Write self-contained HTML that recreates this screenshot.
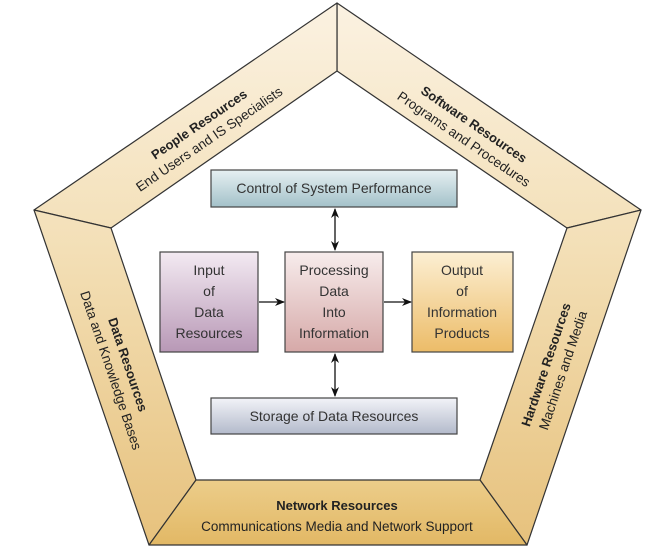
<!DOCTYPE html>
<html><head><meta charset="utf-8"><style>
html,body{margin:0;padding:0;background:#fff;}
svg{display:block;font-family:"Liberation Sans",Arial,sans-serif;}
</style></head><body>
<svg width="669" height="558" viewBox="0 0 669 558" xmlns="http://www.w3.org/2000/svg">
<defs>
<linearGradient id="fr" gradientUnits="userSpaceOnUse" x1="0" y1="0" x2="0" y2="558">
<stop offset="0" stop-color="#fbf2e2"/><stop offset="0.45" stop-color="#f3dfb6"/><stop offset="1" stop-color="#e6c07a"/></linearGradient>
<linearGradient id="bt" x1="0" y1="0" x2="0" y2="1"><stop offset="0" stop-color="#eccd8a"/><stop offset="1" stop-color="#e2b865"/></linearGradient>
<linearGradient id="cb" x1="0" y1="0" x2="0" y2="1"><stop offset="0" stop-color="#e6f0f2"/><stop offset="1" stop-color="#a3c1c9"/></linearGradient>
<linearGradient id="ib" x1="0" y1="0" x2="0" y2="1"><stop offset="0" stop-color="#f3eaf2"/><stop offset="1" stop-color="#b898b6"/></linearGradient>
<linearGradient id="pb" x1="0" y1="0" x2="0" y2="1"><stop offset="0" stop-color="#f7ecec"/><stop offset="1" stop-color="#d6a9a8"/></linearGradient>
<linearGradient id="ob" x1="0" y1="0" x2="0" y2="1"><stop offset="0" stop-color="#fcefd3"/><stop offset="1" stop-color="#ecbc68"/></linearGradient>
<linearGradient id="sb" x1="0" y1="0" x2="0" y2="1"><stop offset="0" stop-color="#f2f3f8"/><stop offset="1" stop-color="#b3bacb"/></linearGradient>
<marker id="ah" markerWidth="10" markerHeight="8" refX="9" refY="4" orient="auto-start-reverse" markerUnits="userSpaceOnUse"><path d="M0,0 L10,4 L0,8 L3,4 z" fill="#111"/></marker>
</defs>
<g stroke="#333" stroke-width="1.2" stroke-linejoin="round">
<polygon points="337,3 641,210 567,228 337,71" fill="url(#fr)"/>
<polygon points="337,3 337,71 111,228 34,210" fill="url(#fr)"/>
<polygon points="34,210 111,228 196,480 149,545" fill="url(#fr)"/>
<polygon points="641,210 567,228 480,480 527,545" fill="url(#fr)"/>
<polygon points="149,545 196,480 480,480 527,545" fill="url(#bt)"/>
</g>
<g font-size="13.5" fill="#222">
<g transform="translate(205,133) rotate(-34.4)" text-anchor="middle">
<text y="-6" font-weight="bold" font-size="13">People Resources</text>
<text y="12">End Users and IS Specialists</text></g>
<g transform="translate(468,133) rotate(34.4)" text-anchor="middle">
<text y="-6" font-weight="bold" font-size="13">Software Resources</text>
<text y="12">Programs and Procedures</text></g>
<g transform="translate(118,368) rotate(71.4)" text-anchor="middle">
<text y="-6" font-weight="bold" font-size="13">Data Resources</text>
<text y="12">Data and Knowledge Bases</text></g>
<g transform="translate(556,368) rotate(-71.4)" text-anchor="middle">
<text y="-6" font-weight="bold" font-size="13">Hardware Resources</text>
<text y="12">Machines and Media</text></g>
<text x="337" y="510" text-anchor="middle" font-weight="bold" font-size="13">Network Resources</text>
<text x="337" y="531" text-anchor="middle">Communications Media and Network Support</text>
</g>
<g stroke="#444" stroke-width="1.2">
<rect x="211" y="170" width="246" height="37" fill="url(#cb)"/>
<rect x="160" y="252" width="98" height="100" fill="url(#ib)"/>
<rect x="285" y="252" width="98" height="100" fill="url(#pb)"/>
<rect x="412" y="252" width="101" height="100" fill="url(#ob)"/>
<rect x="211" y="398" width="246" height="36" fill="url(#sb)"/>
</g>
<g stroke="#111" stroke-width="1.3">
<line x1="335" y1="209" x2="335" y2="250" marker-start="url(#ah)" marker-end="url(#ah)"/>
<line x1="335" y1="354" x2="335" y2="396" marker-start="url(#ah)" marker-end="url(#ah)"/>
<line x1="259" y1="302" x2="284" y2="302" marker-end="url(#ah)"/>
<line x1="384" y1="302" x2="411" y2="302" marker-end="url(#ah)"/>
</g>
<g font-size="14" fill="#333" text-anchor="middle">
<text x="334" y="193">Control of System Performance</text>
<text x="334" y="421">Storage of Data Resources</text>
<text x="209" y="275">Input</text><text x="209" y="296">of</text><text x="209" y="317">Data</text><text x="209" y="338">Resources</text>
<text x="334" y="275">Processing</text><text x="334" y="296">Data</text><text x="334" y="317">Into</text><text x="334" y="338">Information</text>
<text x="462" y="275">Output</text><text x="462" y="296">of</text><text x="462" y="317">Information</text><text x="462" y="338">Products</text>
</g>
</svg>
</body></html>
